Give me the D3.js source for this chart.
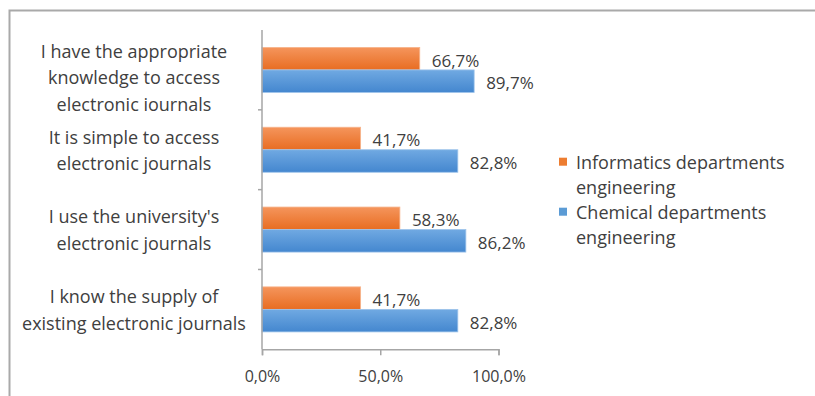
<!DOCTYPE html>
<html>
<head>
<meta charset="utf-8">
<script src="https://cdn.jsdelivr.net/npm/d3@7"></script>
<style>
  html, body { margin: 0; padding: 0; background: #fff; }
  svg { display: block; }
  text { font-family: "Open Sans", "DejaVu Sans", sans-serif; fill: #404040; }
</style>
</head>
<body>
<svg id="chart" width="815" height="396"></svg>
<script>
// ---- data ----
const categories = [
  ["I have the appropriate", "knowledge to access", "electronic iournals"],
  ["It is simple to access", "electronic journals"],
  ["I use the university's", "electronic journals"],
  ["I know the supply of", "existing electronic journals"]
];
const seriesNames = [
  ["Informatics departments", "engineering"],
  ["Chemical departments", "engineering"]
];
const informatics = [66.7, 41.7, 58.3, 41.7];
const chemical = [89.7, 82.8, 86.2, 82.8];
const xTicks = [0, 50, 100];

// ---- layout ----
const svg = d3.select("#chart");
const plot = { left: 262, right: 498.5, top: 30, bottom: 349.3 };
const fmt = v => d3.format(".1f")(v).replace(".", ",") + "%";

// outer border
svg.append("rect")
  .attr("x", 9.5).attr("y", 10.5).attr("width", 900).attr("height", 500)
  .attr("fill", "none").attr("stroke", "#a9a9a9").attr("stroke-width", 2);

// gradients
const defs = svg.append("defs");
function grad(id, c1, c2) {
  const g = defs.append("linearGradient").attr("id", id)
    .attr("x1", 0).attr("y1", 0).attr("x2", 0).attr("y2", 1);
  g.append("stop").attr("offset", "0%").attr("stop-color", c1);
  g.append("stop").attr("offset", "100%").attr("stop-color", c2);
}
grad("gOrange", "#f5955c", "#e86d22");
grad("gBlue", "#70a9e2", "#4487cf");
const fills = ["url(#gOrange)", "url(#gBlue)"];
const strokes = ["#f7b48c", "#9cc3ea"];
const solid = ["#ed7d31", "#5b9bd5"];

const x = d3.scaleLinear().domain([0, 100]).range([plot.left, plot.right]);
const y = d3.scaleBand().domain(d3.range(categories.length))
  .range([plot.top, plot.bottom]).paddingInner(0.436).paddingOuter(0.218);
const ys = d3.scaleBand().domain([0, 1]).range([0, y.bandwidth()]);

const series = [informatics, chemical];

// bars
series.forEach((vals, si) => {
  const g = svg.append("g");
  g.selectAll("rect").data(vals).join("rect")
    .attr("x", x(0))
    .attr("y", (d, i) => y(i) + ys(si))
    .attr("width", d => x(d) - x(0))
    .attr("height", ys.bandwidth())
    .attr("fill", fills[si])
    .attr("stroke", strokes[si]).attr("stroke-width", 0.8);
  g.selectAll("text").data(vals).join("text")
    .attr("x", d => x(d) + 12)
    .attr("y", (d, i) => y(i) + ys(si) + ys.bandwidth() / 2 + 1.5)
    .attr("dominant-baseline", "central")
    .attr("font-size", 17)
    .text(d => fmt(d));
});

// x axis
const xAxis = svg.append("g").attr("transform", `translate(0,${plot.bottom})`)
  .call(d3.axisBottom(x).tickValues(xTicks).tickSize(6).tickFormat(fmt));
xAxis.select(".domain").attr("stroke", "#a6a6a6").attr("stroke-width", 1.5);
xAxis.selectAll(".tick line").attr("stroke", "#a6a6a6").attr("stroke-width", 1.5);
xAxis.selectAll(".tick text")
  .attr("font-size", 16).attr("fill", "#404040")
  .attr("font-family", '"Open Sans", sans-serif')
  .attr("y", 0).attr("dy", 0)
  .attr("transform", "translate(0,27)")
  .attr("dominant-baseline", "central");

// y axis line with ticks between categories
svg.append("line")
  .attr("x1", plot.left).attr("x2", plot.left)
  .attr("y1", plot.top).attr("y2", plot.bottom)
  .attr("stroke", "#a6a6a6").attr("stroke-width", 1.5);
const step = y.step();
svg.selectAll(".ytick").data(d3.range(1, categories.length)).join("line")
  .attr("x1", plot.left - 4).attr("x2", plot.left)
  .attr("y1", d => plot.top + d * step).attr("y2", d => plot.top + d * step)
  .attr("stroke", "#a6a6a6").attr("stroke-width", 1.5);

// category labels
const lh = 26.3;
categories.forEach((lines, i) => {
  const c = y(i) + y.bandwidth() / 2;
  const first = Math.max(c - (lines.length - 1) / 2 * lh, plot.top + 21);
  const t = svg.append("text")
    .attr("text-anchor", "middle")
    .attr("font-size", 18)
    .attr("dominant-baseline", "central");
  lines.forEach((s, j) => {
    t.append("tspan").attr("x", 134).attr("y", first + j * lh).text(s);
  });
});

// legend
const lg = svg.append("g");
seriesNames.forEach((lines, si) => {
  const top = 161.7 + si * 50;
  lg.append("rect").attr("x", 559).attr("y", top - 4).attr("width", 8).attr("height", 8)
    .attr("fill", solid[si]);
  const t = lg.append("text").attr("font-size", 18).attr("dominant-baseline", "central");
  lines.forEach((s, j) => {
    t.append("tspan").attr("x", 576).attr("y", top + j * 25).text(s);
  });
});
</script>
</body>
</html>
